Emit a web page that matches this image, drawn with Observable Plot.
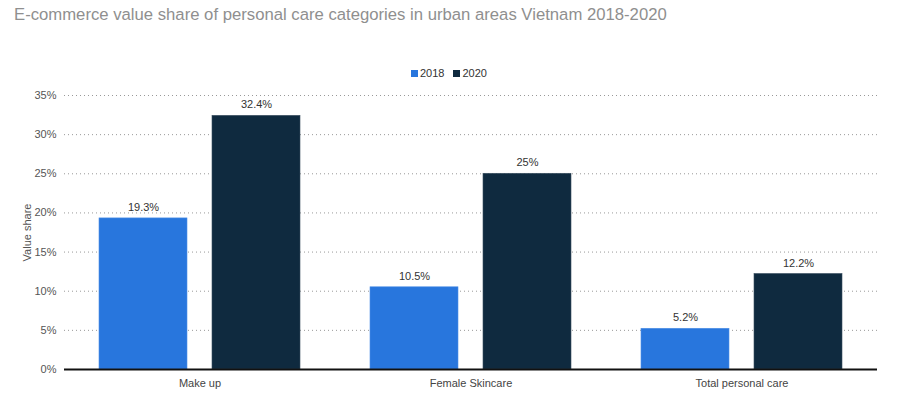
<!DOCTYPE html>
<html><head><meta charset="utf-8">
<script src="https://cdn.jsdelivr.net/npm/d3@7"></script>
<script src="https://cdn.jsdelivr.net/npm/@observablehq/plot@0.6"></script>
<style>
body{margin:0;background:#fff;font-family:"Liberation Sans",Arial,sans-serif;width:902px;height:401px;position:relative;overflow:hidden;}
#title{position:absolute;left:14px;top:5px;font-size:16.7px;color:#8f8f8f;white-space:nowrap;}
#legend{position:absolute;top:67px;left:411px;font-size:11px;color:#333;display:flex;align-items:center;white-space:nowrap;}
#legend .sw{display:inline-block;width:7px;height:7px;margin-right:2px;}
#legend .item{display:flex;align-items:center;margin-right:9px;}
#chart{position:absolute;top:85px;left:0;}
</style>
</head><body>
<div id="title">E-commerce value share of personal care categories in urban areas Vietnam 2018-2020</div>
<div id="legend"></div>
<div id="chart"></div>
<script>
const categories = ["Make up", "Female Skincare", "Total personal care"];
const years = ["2018", "2020"];
const values2018 = [19.3, 10.5, 5.2];
const values2020 = [32.4, 25, 12.2];
const yTicks = [0, 5, 10, 15, 20, 25, 30, 35];
const colors = ["#2876dd", "#0f2a3f"];

const data2018 = categories.map((c, i) => ({category: c, year: "2018", value: values2018[i]}));
const data2020 = categories.map((c, i) => ({category: c, year: "2020", value: values2020[i]}));

const legend = document.getElementById("legend");
years.forEach((y, i) => {
  const it = document.createElement("span");
  it.className = "item";
  it.innerHTML = `<span class="sw" style="background:${colors[i]}"></span>${y}`;
  legend.appendChild(it);
});

// group band ~201px: two bars of 88px with a 25px gap
const half = 113;
const off = 56.5;

const chart = Plot.plot({
  width: 902,
  height: 316,
  marginLeft: 64,
  marginRight: 25,
  marginTop: 10,
  marginBottom: 32,
  style: {fontFamily: '"Liberation Sans", Arial, sans-serif', fontSize: "11px", color: "#555", background: "#fff"},
  x: {domain: categories, paddingInner: 0.26, paddingOuter: 0.13},
  y: {domain: [0, 35]},
  color: {domain: years, range: colors},
  marks: [
    Plot.gridY(yTicks, {stroke: "#999", strokeOpacity: 1, strokeDasharray: "1,3"}),
    Plot.axisY({ticks: yTicks, tickFormat: d => d + "%", tickSize: 0, tickPadding: 8, label: "Value share", labelAnchor: "center", labelArrow: "none", labelOffset: 41, fill: "#555"}),
    Plot.axisX({tickSize: 0, tickPadding: 10, label: null, fill: "#444"}),
    Plot.barY(data2018, {x: "category", y: "value", fill: "year", insetRight: half, stroke: "#4d8fe6", strokeWidth: 0.6}),
    Plot.barY(data2020, {x: "category", y: "value", fill: "year", insetLeft: half, stroke: "#3a4f60", strokeWidth: 0.6}),
    Plot.text(data2018, {x: "category", y: "value", text: d => d.value + "%", dx: -off, dy: -11, fill: "#333", fontSize: 11}),
    Plot.text(data2020, {x: "category", y: "value", text: d => d.value + "%", dx: off, dy: -11, fill: "#333", fontSize: 11}),
    Plot.ruleY([0], {stroke: "#111", strokeWidth: 2})
  ]
});
document.getElementById("chart").appendChild(chart);
</script>
</body></html>
